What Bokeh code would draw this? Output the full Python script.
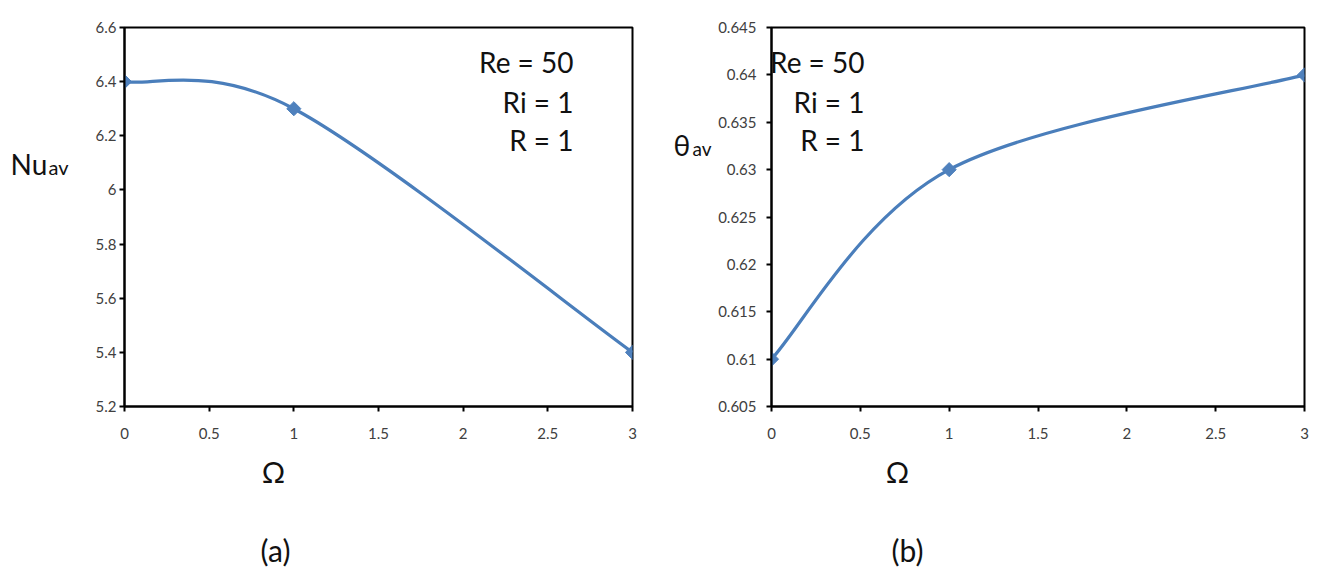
from bokeh.plotting import figure
from bokeh.models import Range1d, FixedTicker, Label
from bokeh.layouts import row, column
from bokeh.embed import file_html
from bokeh.resources import INLINE

# ---- data ----
omega = [0, 1, 3]
nu_av = [6.4, 6.3, 5.4]
theta_av = [0.61, 0.63, 0.64]

x_ticks = [0, 0.5, 1, 1.5, 2, 2.5, 3]
x_tick_labels = ["0", "0.5", "1", "1.5", "2", "2.5", "3"]
nu_ticks = [5.2, 5.4, 5.6, 5.8, 6.0, 6.2, 6.4, 6.6]
nu_tick_labels = ["5.2", "5.4", "5.6", "5.8", "6", "6.2", "6.4", "6.6"]
theta_ticks = [0.605, 0.61, 0.615, 0.62, 0.625, 0.63, 0.635, 0.64, 0.645]
theta_tick_labels = ["0.605", "0.61", "0.615", "0.62", "0.625", "0.63", "0.635", "0.64", "0.645"]

param_lines = ["Re = 50", "Ri = 1", "R = 1"]

LINE = "#4A7EBB"
MARK = "#4F81BD"
TEXT = "#111111"
TICK_FONT = "Lato"
BIG_FONT = "Lato"
TOP_H = 446


def smooth_segments(xs, ys):
    """Bezier control points (Excel-style smoothing) through the data points."""
    n = len(xs)
    seg = dict(x0=[], y0=[], x1=[], y1=[], cx0=[], cy0=[], cx1=[], cy1=[])
    for i in range(n - 1):
        xa, ya = xs[max(i - 1, 0)], ys[max(i - 1, 0)]
        xb, yb = xs[i], ys[i]
        xc, yc = xs[i + 1], ys[i + 1]
        xd, yd = xs[min(i + 2, n - 1)], ys[min(i + 2, n - 1)]
        seg["x0"].append(xb); seg["y0"].append(yb)
        seg["x1"].append(xc); seg["y1"].append(yc)
        seg["cx0"].append(xb + (xc - xa) / 6.0); seg["cy0"].append(yb + (yc - ya) / 6.0)
        seg["cx1"].append(xc - (xd - xb) / 6.0); seg["cy1"].append(yc - (yd - yb) / 6.0)
    return seg


def text_fig(w, h):
    f = figure(width=w, height=h, x_range=Range1d(0, w), y_range=Range1d(0, h),
               x_axis_type=None, y_axis_type=None, output_backend="svg",
               toolbar_location=None, min_border=0)
    f.outline_line_color = None
    f.grid.visible = False
    f.background_fill_color = "white"
    f.border_fill_color = "white"
    return f


def lab(f, x, y, text, size, align="left", baseline="alphabetic", units="data"):
    f.add_layout(Label(x=x, y=y, x_units=units, y_units=units, text=text,
                       text_align=align, text_baseline=baseline,
                       text_font=BIG_FONT, text_font_size=size, text_color=TEXT))


def make_panel(ys, yticks, ylabels, yr, width, bl, br, ystandoff, text_x):
    p = figure(width=width, height=TOP_H, x_range=Range1d(0, 3), y_range=Range1d(*yr),
               output_backend="svg", toolbar_location=None,
               min_border_left=bl, min_border_right=br, min_border_top=27, min_border_bottom=40)
    p.background_fill_color = "white"
    p.border_fill_color = "white"
    p.outline_line_color = "black"
    p.outline_line_width = 2
    p.outline_line_alpha = 1
    p.grid.visible = False

    p.xaxis.ticker = FixedTicker(ticks=x_ticks, minor_ticks=[])
    p.xaxis.major_label_overrides = dict(zip(x_ticks, x_tick_labels))
    p.yaxis.ticker = FixedTicker(ticks=yticks, minor_ticks=[])
    p.yaxis.major_label_overrides = dict(zip(yticks, ylabels))
    for ax in (p.xaxis[0], p.yaxis[0]):
        ax.axis_line_color = "black"
        ax.axis_line_width = 2
        ax.major_tick_line_color = "black"
        ax.major_tick_line_width = 2
        ax.major_tick_in = 0
        ax.major_tick_out = 5
        ax.minor_tick_in = 0
        ax.minor_tick_out = 0
        ax.major_label_text_font = TICK_FONT
        ax.major_label_text_font_size = "15px"
        ax.major_label_text_color = "#404040"
    p.xaxis.major_label_standoff = 16
    p.yaxis.major_label_standoff = ystandoff

    seg = smooth_segments(omega, ys)
    p.bezier(x0=seg["x0"], y0=seg["y0"], x1=seg["x1"], y1=seg["y1"],
             cx0=seg["cx0"], cy0=seg["cy0"], cx1=seg["cx1"], cy1=seg["cy1"],
             line_color=LINE, line_width=3.2)
    p.scatter(omega, ys, marker="square", angle=0.785398, size=10,
              fill_color=MARK, line_color=MARK)

    for txt, yb in zip(param_lines, [345, 305, 267]):
        lab(p, text_x, yb, txt, "28px", align="right", units="screen")
    return p


# y-axis title strips
ylab1 = text_fig(70, TOP_H)
lab(ylab1, 10, TOP_H - 172 + 11, "Nu", "28px")
lab(ylab1, 48, TOP_H - 172 + 8, "av", "20px")

ylab2 = text_fig(62, TOP_H)
lab(ylab2, 20, TOP_H - 153 + 15, "θ", "28px")
lab(ylab2, 39, TOP_H - 154 + 12, "av", "19px")

p1 = make_panel(nu_av, nu_ticks, nu_tick_labels, (5.2, 6.6), 583, 54, 21, 3, 449)
p2 = make_panel(theta_av, theta_ticks, theta_tick_labels, (0.605, 0.645), 599, 56, 10, 10, 93)

# bottom strip: x-axis titles and captions
BOT_H = 122
bottom = text_fig(1314, BOT_H)
lab(bottom, 273, BOT_H - (471 - TOP_H), "Ω", "29px", align="center", baseline="middle")
lab(bottom, 275, BOT_H - (549 - TOP_H), "(a)", "30px", align="center", baseline="middle")
lab(bottom, 897, BOT_H - (471 - TOP_H), "Ω", "29px", align="center", baseline="middle")
lab(bottom, 907, BOT_H - (549 - TOP_H), "(b)", "30px", align="center", baseline="middle")

layout = column(row(ylab1, p1, ylab2, p2, spacing=0), bottom, spacing=0)
open("out.html", "w").write(file_html(layout, INLINE))
